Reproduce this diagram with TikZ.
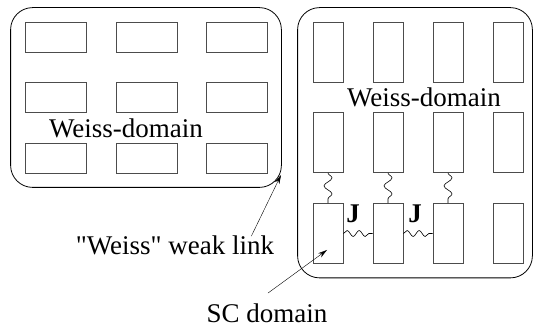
\documentclass[tikz,border=0pt]{standalone}
\usepackage{fontspec}
\setmainfont{Liberation Serif}[Ligatures=TeXOff]
\usetikzlibrary{positioning,fit,decorations.pathmorphing,arrows.meta}

\begin{document}
\begin{tikzpicture}[
            x=1pt,y=-1pt,
            every node/.style={on grid},
            grain/.style={draw=black!70,line width=0.8pt,inner sep=0pt},
            wide/.style={grain,minimum width=61pt,minimum height=30pt},
            tall/.style={grain,minimum width=30pt,minimum height=60pt},
            every fit/.style={draw,line width=0.8pt,rounded corners=22pt,inner sep=14pt},
            txt/.style={inner sep=0pt,anchor=base,font=\fontsize{27}{32}\selectfont},
            vlink/.style={decorate,decoration={snake,segment length=16pt,amplitude=4pt},line width=0.6pt},
            hlink/.style={decorate,decoration={snake,segment length=12pt,amplitude=3pt},line width=0.6pt},
            >={Stealth[length=9pt,width=5pt]}
        ]
        \useasboundingbox (0,0) rectangle (533,336);

        % Left domain grains %
        \node[wide] (l11) at (55.5,37) {};
        \node[wide,right=91pt of l11] (l12) {};
        \node[wide,right=90pt of l12] (l13) {};
        \node[wide,below=60.5pt of l11] (l21) {};
        \node[wide,right=91pt of l21] (l22) {};
        \node[wide,right=90pt of l22] (l23) {};
        \node[wide,below=60.5pt of l21] (l31) {};
        \node[wide,right=91pt of l31] (l32) {};
        \node[wide,right=90pt of l32] (l33) {};

        % Right domain grains %
        \node[tall] (r11) at (328,52) {};
        \node[tall,right=60pt of r11] (r12) {};
        \node[tall,right=60pt of r12] (r13) {};
        \node[tall,right=60.5pt of r13] (r14) {};
        \node[tall,below=90.5pt of r11] (r21) {};
        \node[tall,right=60pt of r21] (r22) {};
        \node[tall,right=60pt of r22] (r23) {};
        \node[tall,right=60.5pt of r23] (r24) {};
        \node[tall,below=91pt of r21] (r31) {};
        \node[tall,right=60pt of r31] (r32) {};
        \node[tall,right=60pt of r32] (r33) {};
        \node[tall,right=60.5pt of r33] (r34) {};

        % Domain outlines %
        \node[fit = (l11) (l33)] (left) {};
        \node[fit = (r11) (r34), inner xsep=11.75pt, xshift=-3.25pt] (right) {};

        % Josephson links %
        \draw[vlink] (r21.south) -- (r31.north);
        \draw[vlink] (r22.south) -- (r32.north);
        \draw[vlink] (r23.south) -- (r33.north);
        \draw[hlink] (r31.east) -- (r32.west);
        \draw[hlink] (r32.east) -- (r33.west);
        \node[txt,font=\fontsize{27}{32}\selectfont\bfseries] (j1) at (353,223) {J};
        \node[txt,font=\fontsize{27}{32}\selectfont\bfseries] (j2) at (415,223) {J};

        % Labels %
        \node[txt] (wd1) at (126,138) {Weiss-domain};
        \node[txt] (wd2) at (424,107) {Weiss-domain};
        \node[txt] (wl) at (175,255) {"Weiss" weak link};
        \node[txt] (sc) at (267,323) {SC domain};

        % Arrows %
        \coordinate (wl-tip) at (281,175);
        \coordinate (sc-tip) at (327,250);
        \draw[->] ([xshift=-23pt]wl.north east) -- (wl-tip);
        \draw[->] ([yshift=11pt,xshift=1pt]sc.north) -- (sc-tip);
\end{tikzpicture}
\end{document}
